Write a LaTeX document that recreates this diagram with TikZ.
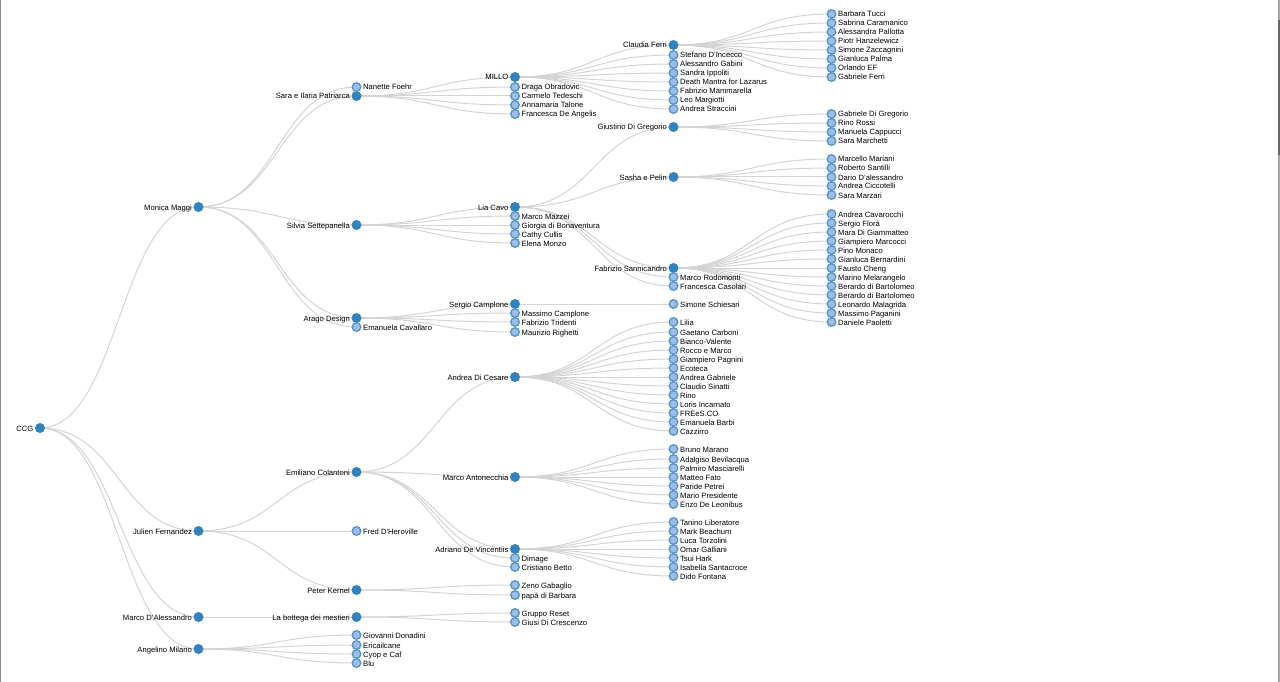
\documentclass[tikz,border=0pt]{standalone}
\usepackage{fontspec}
\setmainfont{Liberation Sans}
\usetikzlibrary{backgrounds}
\definecolor{hubblue}{HTML}{3182BD}
\definecolor{leafblue}{HTML}{9DBDE6}
\begin{document}
\begin{tikzpicture}[x=1pt,y=-1pt,font=\fontsize{7.65}{9}\selectfont]
  \tikzstyle{hub}=[circle,draw=hubblue,fill=hubblue,line width=1.3pt,minimum size=8.6pt,inner sep=0pt]
  \tikzstyle{leaf}=[hub,draw=hubblue!85,fill=leafblue]
  \tikzstyle{lab}=[inner sep=0pt,label distance=1.5pt,text height=6pt,text depth=0pt]
  \tikzstyle{link}=[draw=black!17,line width=1pt]
  \useasboundingbox (0,0) rectangle (1280,682);
  \fill[black!45] (0,0) rectangle (1,682);
  \fill[black!35] (1278,0) rectangle (1280,682);
  \fill[black!60] (1278,20) rectangle (1280,155);
  % nodes with children
  \foreach \id/\xpos/\ypos/\txt in {
    ccg/40/428/CCG,
    monica/198.5/207/Monica Maggi, julien/198.5/531/Julien Fernandez,
    marcod/198.5/617/Marco D'Alessandro, angelino/198.5/649/Angelino Milano,
    sara/356.5/96/Sara e Ilaria Patriarca, silvia/356.5/225/Silvia Settepanella,
    arago/356.5/318/Arago Design, emiliano/356.5/472/Emiliano Colantoni,
    peter/356.5/590/Peter Kernel, bottega/356.5/617/La bottega dei mestieri,
    millo/515/77/MILLO, lia/515/207/Lia Cavo, sergioc/515/304/Sergio Camplone,
    cesare/515/377/Andrea Di Cesare, antonecchia/515/477/Marco Antonecchia,
    adriano/515/549/Adriano De Vincentiis,
    claudia/673.5/45/Claudia Ferri, giustino/673.5/127/Giustino Di Gregorio,
    sasha/673.5/177/Sasha e Pelin, sannicandro/673.5/268/Fabrizio Sannicandro}
    \node[hub,label={[lab]left:\txt}] (\id) at (\xpos,\ypos) {};
  % leaves
  \foreach \id/\xpos/\ypos/\txt in {
    nanette/356.5/87/Nanette Foehr, emanuelac/356.5/327/Emanuela Cavallaro,
    fred/356.5/531/Fred D'Heroville, giovanni/356.5/635/Giovanni Donadini,
    ericailcane/356.5/645/Ericailcane, cyop/356.5/654/Cyop e Caf, blu/356.5/663/Blu,
    draga/515/87/Draga Obradovic, carmelo/515/96/Carmelo Tedeschi,
    annamaria/515/105/Annamaria Talone, francescad/515/114/Francesca De Angelis,
    mazzei/515/216/Marco Mazzei, giorgia/515/225/Giorgia di Bonaventura,
    cathy/515/234/Cathy Cullis, elena/515/243/Elena Monzo,
    massimoc/515/313/Massimo Camplone, tridenti/515/322/Fabrizio Tridenti,
    maurizio/515/332/Maurizio Righetti, dimage/515/558/Dimage,
    cristiano/515/567/Cristiano Betto, zeno/515/585/Zeno Gabaglio,
    papa/515/595/papà di Barbara, gruppo/515/613/Gruppo Reset,
    giusi/515/622/Giusi Di Crescenzo,
    stefano/673.5/55/Stefano D'Incecco, gabini/673.5/64/Alessandro Gabini,
    sandra/673.5/73/Sandra Ippoliti, death/673.5/82/Death Mantra for Lazarus,
    mammarella/673.5/91/Fabrizio Mammarella, leo/673.5/100/Leo Margiotti,
    straccini/673.5/109/Andrea Straccini, rodomonti/673.5/277/Marco Rodomonti,
    casolari/673.5/286/Francesca Casolari, schiesari/673.5/304/Simone Schiesari,
    lilia/673.5/322/Lilia, gaetano/673.5/332/Gaetano Carboni,
    bianco/673.5/341/Bianco-Valente, rocco/673.5/350/Rocco e Marco,
    pagnini/673.5/359/Giampiero Pagnini, ecoteca/673.5/368/Ecoteca,
    agabriele/673.5/377/Andrea Gabriele, sinatti/673.5/386/Claudio Sinatti,
    rino/673.5/395/Rino, loris/673.5/404/Loris Incarnato,
    frees/673.5/413/FREeS.CO, barbi/673.5/422/Emanuela Barbi,
    cazzirro/673.5/431/Cazzirro, bruno/673.5/449/Bruno Marano,
    adalgiso/673.5/459/Adalgiso Bevilacqua, palmiro/673.5/468/Palmiro Masciarelli,
    matteo/673.5/477/Matteo Fato, paride/673.5/486/Paride Petrei,
    mario/673.5/495/Mario Presidente, enzo/673.5/504/Enzo De Leonibus,
    tanino/673.5/522/Tanino Liberatore, mark/673.5/531/Mark Beachum,
    luca/673.5/540/Luca Torzolini, omar/673.5/549/Omar Galliani,
    tsui/673.5/558/Tsui Hark, isabella/673.5/567/Isabella Santacroce,
    dido/673.5/576/Dido Fontana,
    barbara/831.5/14/Barbara Tucci, sabrina/831.5/23/Sabrina Caramanico,
    pallotta/831.5/32/Alessandra Pallotta, piotr/831.5/41/Piotr Hanzelewicz,
    zaccagnini/831.5/50/Simone Zaccagnini, gpalma/831.5/59/Gianluca Palma,
    orlando/831.5/68/Orlando EF, gferri/831.5/77/Gabriele Ferri,
    gabrieled/831.5/114/Gabriele Di Gregorio, rossi/831.5/123/Rino Rossi,
    manuela/831.5/132/Manuela Cappucci, marchetti/831.5/141/Sara Marchetti,
    marcello/831.5/159/Marcello Mariani, santilli/831.5/168/Roberto Santilli,
    dario/831.5/177/Dario D'alessandro, ciccotelli/831.5/186/Andrea Ciccotelli,
    marzari/831.5/195/Sara Marzari,
    cavarocchi/831.5/214/Andrea Cavarocchi, flora/831.5/223/Sergio Florà,
    mara/831.5/232/Mara Di Giammatteo, marcocci/831.5/241/Giampiero Marcocci,
    pino/831.5/250/Pino Monaco, bernardini/831.5/259/Gianluca Bernardini,
    fausto/831.5/268/Fausto Cheng, marino/831.5/277/Marino Melarangelo,
    berardoa/831.5/286/Berardo di Bartolomeo, berardob/831.5/295/Berardo di Bartolomeo,
    leonardo/831.5/304/Leonardo Malagrida, paganini/831.5/313/Massimo Paganini,
    daniele/831.5/322/Daniele Paoletti}
    \node[leaf,label={[lab]right:\txt}] (\id) at (\xpos,\ypos) {};
  % links go under the nodes
  \begin{pgfonlayer}{background}
    \foreach \from/\kids in {
      ccg/{monica,julien,marcod,angelino},
      monica/{nanette,sara,silvia,arago,emanuelac},
      julien/{emiliano,fred,peter},
      marcod/{bottega},
      angelino/{giovanni,ericailcane,cyop,blu},
      sara/{millo,draga,carmelo,annamaria,francescad},
      silvia/{lia,mazzei,giorgia,cathy,elena},
      arago/{sergioc,massimoc,tridenti,maurizio},
      emiliano/{cesare,antonecchia,adriano,dimage,cristiano},
      peter/{zeno,papa},
      bottega/{gruppo,giusi},
      millo/{claudia,stefano,gabini,sandra,death,mammarella,leo,straccini},
      lia/{giustino,sasha,sannicandro,rodomonti,casolari},
      sergioc/{schiesari},
      cesare/{lilia,gaetano,bianco,rocco,pagnini,ecoteca,agabriele,sinatti,rino,loris,frees,barbi,cazzirro},
      antonecchia/{bruno,adalgiso,palmiro,matteo,paride,mario,enzo},
      adriano/{tanino,mark,luca,omar,tsui,isabella,dido},
      claudia/{barbara,sabrina,pallotta,piotr,zaccagnini,gpalma,orlando,gferri},
      giustino/{gabrieled,rossi,manuela,marchetti},
      sasha/{marcello,santilli,dario,ciccotelli,marzari},
      sannicandro/{cavarocchi,flora,mara,marcocci,pino,bernardini,fausto,marino,berardoa,berardob,leonardo,paganini,daniele}}
      \foreach \to in \kids
        \draw[link] (\from.center) .. controls +(79.2,0) and +(-79.2,0) .. (\to.center);
  \end{pgfonlayer}
\end{tikzpicture}
\end{document}
